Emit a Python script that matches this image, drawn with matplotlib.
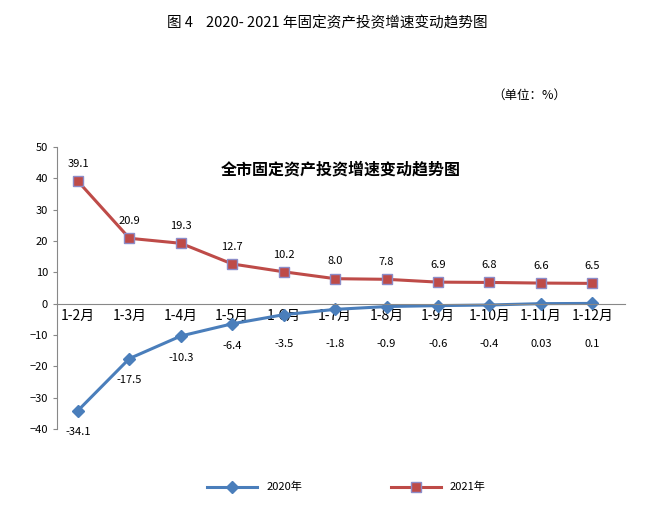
import matplotlib
matplotlib.use("Agg")
import matplotlib.pyplot as plt

plt.rcParams['font.family'] = ['Noto Sans CJK SC', 'DejaVu Sans']

cats = ["1-2月","1-3月","1-4月","1-5月","1-6月","1-7月","1-8月","1-9月","1-10月","1-11月","1-12月"]
v2020 = [-34.1,-17.5,-10.3,-6.4,-3.5,-1.8,-0.9,-0.6,-0.4,0.03,0.1]
v2021 = [39.1,20.9,19.3,12.7,10.2,8.0,7.8,6.9,6.8,6.6,6.5]
lab2020 = ["-34.1","-17.5","-10.3","-6.4","-3.5","-1.8","-0.9","-0.6","-0.4","0.03","0.1"]
lab2021 = ["39.1","20.9","19.3","12.7","10.2","8.0","7.8","6.9","6.8","6.6","6.5"]

fig = plt.figure(figsize=(6.54, 5.2), dpi=100)
ax = fig.add_axes([0.087, 0.175, 0.869, 0.542])
x = list(range(len(cats)))
blue = "#4A7EBB"; red = "#BE4B48"
l1, = ax.plot(x, v2020, color=blue, lw=2.2, marker="D", ms=6, mfc=blue, mec=blue, label="2020年")
l2, = ax.plot(x, v2021, color=red, lw=2.2, marker="s", ms=7, mfc=red, mec="#8C8CC8", label="2021年")
for i in x:
    ax.text(i, v2021[i] + 5.5, lab2021[i], ha="center", va="center", fontsize=8)
    ax.text(i, min(v2020[i] - 7, -13), lab2020[i], ha="center", va="center", fontsize=8)

ax.set_xlim(-0.41, 10.64)
ax.set_ylim(-40, 50)
ax.set_yticks(range(-40, 51, 10))
ax.set_xticks(x)
ax.set_xticklabels(cats, fontsize=7.5)
ax.tick_params(axis='y', labelsize=8, length=3, color="#888888")
ax.tick_params(axis='x', length=0, pad=4)
ax.spines['bottom'].set_position(('data', 0))
ax.spines['bottom'].set_color("#888888")
ax.spines['left'].set_color("#888888")
ax.spines['top'].set_visible(False)
ax.spines['right'].set_visible(False)

ax.text(0.5, 0.92, "全市固定资产投资增速变动趋势图", transform=ax.transAxes,
        ha="center", va="center", fontsize=11.5, fontweight="bold")
fig.text(0.5, 0.955, "图 4    2020- 2021 年固定资产投资增速变动趋势图", ha="center", va="center", fontsize=10.5)
fig.text(0.81, 0.817, "（单位：%）", ha="center", va="center", fontsize=9)

fig.legend(handles=[l1, l2], loc="center", bbox_to_anchor=(0.53, 0.063), ncol=2,
           frameon=False, fontsize=8, handlelength=4.5, columnspacing=8)
fig.savefig("out.png", dpi=100)
